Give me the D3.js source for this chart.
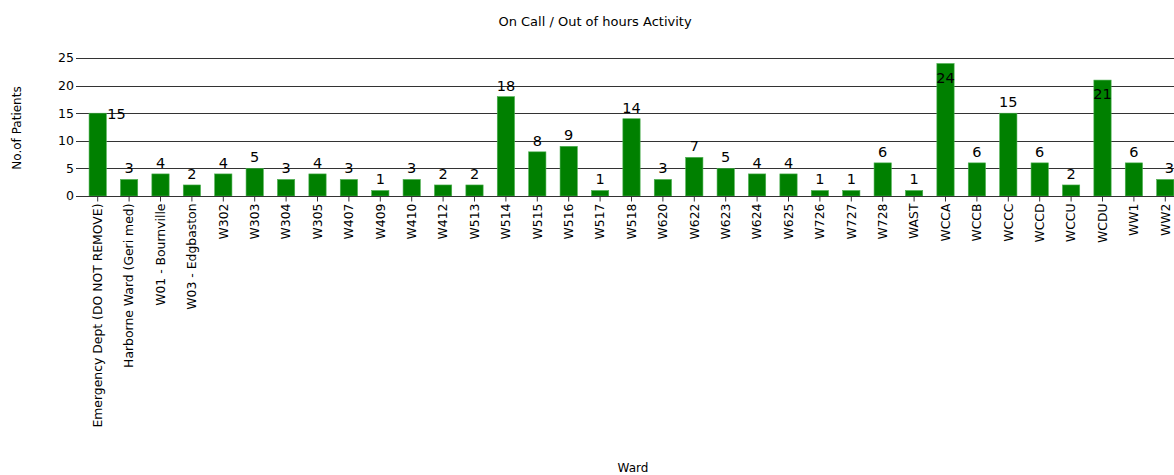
<!DOCTYPE html>
<html>
<head>
<meta charset="utf-8">
<script src="https://cdn.jsdelivr.net/npm/d3@7"></script>
<style>
  body { margin: 0; background: #fff; }
  text { font-family: "DejaVu Sans", sans-serif; }
</style>
</head>
<body>
<div id="my_chart"></div>
<script>
// data
const wards = ["Emergency Dept (DO NOT REMOVE)", "Harborne Ward (Geri med)", "W01 - Bournville", "W03 - Edgbaston",
  "W302", "W303", "W304", "W305", "W407", "W409", "W410", "W412", "W513", "W514", "W515", "W516", "W517", "W518",
  "W620", "W622", "W623", "W624", "W625", "W726", "W727", "W728", "WAST", "WCCA", "WCCB", "WCCC", "WCCD", "WCCU",
  "WCDU", "WW1", "WW2"];
const patients = [15, 3, 4, 2, 4, 5, 3, 4, 3, 1, 3, 2, 2, 18, 8, 9, 1, 14, 3, 7, 5, 4, 4, 1, 1, 6, 1, 24, 6, 15, 6, 2, 21, 6, 3];
const yTicks = [0, 5, 10, 15, 20, 25];

const W = 1174, H = 475;
const left = 78, plotTop = 58, plotBottom = 196;

const svg = d3.select("#my_chart")
    .append("svg")
    .attr("width", W)
    .attr("height", H);

const data = wards.map((w, i) => ({ ward: w, value: patients[i] }));

// X scale (chart runs off the right edge, like the reference)
const x = d3.scaleBand()
    .domain(wards)
    .range([82, 1181])
    .paddingInner(0.45)
    .paddingOuter(0.225);

const y = d3.scaleLinear()
    .domain([0, 25])
    .range([plotBottom, plotTop]);

// gridlines
svg.append("g")
    .selectAll("line")
    .data(yTicks)
    .join("line")
    .attr("x1", left - 2)
    .attr("x2", W)
    .attr("y1", d => Math.round(y(d)) + 0.5)
    .attr("y2", d => Math.round(y(d)) + 0.5)
    .attr("stroke", "#333")
    .attr("stroke-width", 1);

// Y axis labels
svg.append("g")
    .selectAll("text")
    .data(yTicks)
    .join("text")
    .attr("x", left - 4)
    .attr("y", d => y(d))
    .attr("dy", "0.35em")
    .attr("text-anchor", "end")
    .attr("font-size", 12.5)
    .attr("fill", "#000")
    .text(d => d);

// Bars
svg.append("g")
    .selectAll("rect")
    .data(data)
    .join("rect")
    .attr("x", d => x(d.ward))
    .attr("width", x.bandwidth())
    .attr("y", d => y(d.value))
    .attr("height", d => y(0) - y(d.value))
    .attr("fill", "#008000")
    .attr("stroke", "#4caf50")
    .attr("stroke-width", 0.6);

// X axis
const xAxis = svg.append("g")
    .attr("transform", `translate(0,${plotBottom + 0.5})`)
    .call(d3.axisBottom(x).tickSize(5).tickSizeOuter(0));
xAxis.select(".domain").attr("stroke", "#333").attr("d", `M${left - 2},0H${W}`);
xAxis.selectAll(".tick line").attr("stroke", "#333");
xAxis.selectAll(".tick text")
    .attr("font-family", "DejaVu Sans, sans-serif")
    .attr("font-size", 12.4)
    .attr("fill", "#000")
    .attr("transform", "rotate(-90)")
    .attr("text-anchor", "end")
    .attr("x", -7)
    .attr("y", 0)
    .attr("dy", "0.35em");

// value labels
svg.append("g")
    .selectAll("text")
    .data(data)
    .join("text")
    .attr("x", (d, i) => i === 0 ? x(d.ward) + x.bandwidth() + 1 : x(d.ward) + x.bandwidth() / 2 + (i === wards.length - 1 ? 4 : 0))
    .attr("y", (d, i) => i === 0 ? y(d.value) + 6 : (d.value > 20 ? y(d.value) + 19 : y(d.value) - 6))
    .attr("text-anchor", (d, i) => i === 0 ? "start" : "middle")
    .attr("font-size", 14.5)
    .attr("fill", "#000")
    .text(d => d.value);

// titles
svg.append("text")
    .attr("x", 595)
    .attr("y", 26)
    .attr("text-anchor", "middle")
    .attr("font-size", 13)
    .text("On Call / Out of hours Activity");

svg.append("text")
    .attr("x", 633)
    .attr("y", 472)
    .attr("text-anchor", "middle")
    .attr("font-size", 12)
    .text("Ward");

svg.append("text")
    .attr("transform", `translate(21,128) rotate(-90)`)
    .attr("text-anchor", "middle")
    .attr("font-size", 12)
    .text("No.of Patients");
</script>
</body>
</html>
